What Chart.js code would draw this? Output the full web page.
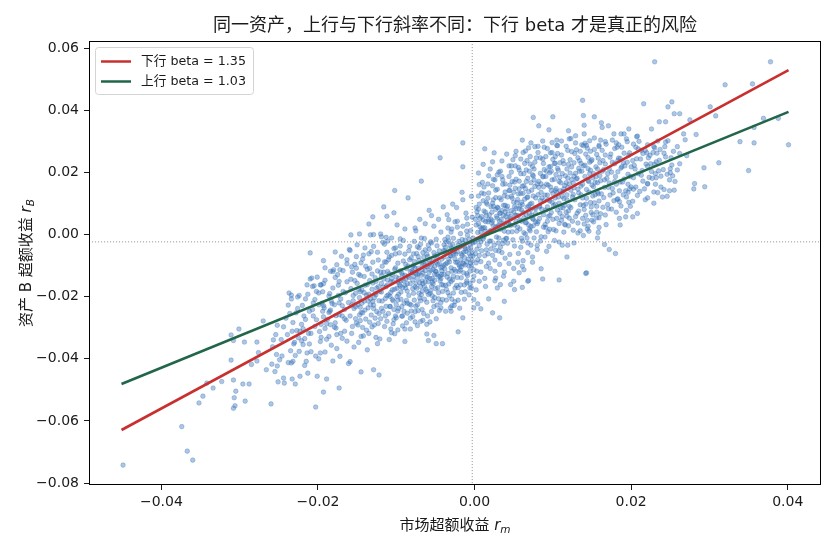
<!DOCTYPE html>
<html><head><meta charset="utf-8">
<script src="https://cdn.jsdelivr.net/npm/chart.js@4.4.1/dist/chart.umd.min.js"></script>
<style>html,body{margin:0;padding:0;background:#fff;overflow:hidden}canvas{display:block}</style>
</head><body>
<canvas id="c" width="836" height="550"></canvas>
<script>
const chartTitle = '同一资产，上行与下行斜率不同：下行 beta 才是真正的风险';
const xLabelText = '市场超额收益 ';
const xLabelSub = 'm';
const yLabelText = '资产 B 超额收益 ';
const yLabelSub = 'B';
const xTicks = [-0.04, -0.02, 0, 0.02, 0.04];
const yTicks = [-0.08, -0.06, -0.04, -0.02, 0, 0.02, 0.04, 0.06];
const xRange = [-0.04925, 0.04425];
const yRange = [-0.0806, 0.0623];
const lineX = [-0.0451, 0.0401];
const downBetaY = [-0.0629, 0.0529];
const upBetaY = [-0.0481, 0.0395];
const seriesLabels = ['下行 beta = 1.35', '上行 beta = 1.03'];
const meanMarket = -0.0003;
const meanAsset = -0.00235;
const scatterPoints = [
[-0.0449,-0.0742],[-0.0374,-0.0618],[-0.0367,-0.0697],[-0.0360,-0.0726],[-0.0352,-0.0542],[-0.0347,-0.0520],[-0.0342,-0.0478],[-0.0334,-0.0494],[-0.0323,-0.0473],[-0.0311,-0.0323],[-0.0311,-0.0404],[-0.0308,-0.0341],[-0.0308,-0.0468],[-0.0307,-0.0525],[-0.0308,-0.0559],[-0.0306,-0.0551],[-0.0305,-0.0504],[-0.0301,-0.0304],[-0.0296,-0.0481],[-0.0294,-0.0346],[-0.0293,-0.0536],[-0.0288,-0.0481],[-0.0285,-0.0418],[-0.0278,-0.0346],[-0.0278,-0.0407],[-0.0276,-0.0380],[-0.0270,-0.0278],[-0.0266,-0.0435],[-0.0260,-0.0545],[-0.0259,-0.0417],[-0.0257,-0.0339],[-0.0254,-0.0322],[-0.0253,-0.0386],[-0.0252,-0.0423],[-0.0251,-0.0474],[-0.0249,-0.0403],[-0.0246,-0.0391],[-0.0244,-0.0297],[-0.0244,-0.0462],[-0.0243,-0.0478],[-0.0237,-0.0188],[-0.0235,-0.0374],[-0.0234,-0.0207],[-0.0233,-0.0465],[-0.0232,-0.0408],[-0.0230,-0.0347],[-0.0229,-0.0481],[-0.0227,-0.0309],[-0.0226,-0.0201],[-0.0225,-0.0332],[-0.0223,-0.0456],[-0.0219,-0.0303],[-0.0217,-0.0335],[-0.0215,-0.0408],[-0.0214,-0.0381],[-0.0213,-0.0446],[-0.0214,-0.0162],[-0.0210,-0.0143],[-0.0209,-0.0377],[-0.0206,-0.0220],[-0.0203,-0.0555],[-0.0202,-0.0274],[-0.0201,-0.0456],[-0.0199,-0.0400],[-0.0197,-0.0344],[-0.0196,-0.0162],[-0.0194,-0.0184],[-0.0193,-0.0507],[-0.0192,-0.0236],[-0.0191,-0.0378],[-0.0189,-0.0465],[-0.0186,-0.0328],[-0.0185,-0.0190],[-0.0184,-0.0290],[-0.0182,-0.0222],[-0.0176,-0.0322],[-0.0174,-0.0163],[-0.0173,-0.0220],[-0.0173,-0.0494],[-0.0172,-0.0392],
[-0.0145,-0.0442],[-0.0129,-0.0435],[-0.0122,-0.0452],[-0.0089,-0.0344],[-0.0161,-0.0415],[-0.0159,-0.0409],
[-0.0049,-0.0351],[-0.0041,-0.0351],[-0.0052,-0.0325],[-0.0059,-0.0341],[-0.0061,-0.0320],[-0.0021,-0.0313],[-0.0015,-0.0268],[-0.0001,-0.0236],[0.0008,-0.0239],[0.0004,-0.0223],[0.0018,-0.0207],[0.0023,-0.0252],[0.0032,-0.0268],[0.0038,-0.0215],[0.0029,-0.0172],[0.0046,-0.0161],[0.0051,-0.0177],[0.0061,-0.0170],[0.0069,-0.0148],[0.0087,-0.0143],[0.0108,-0.0146],[0.0142,-0.0125],[-0.0057,-0.0281],[-0.0069,-0.0280],[-0.0076,-0.0281],[-0.0089,-0.0304],[-0.0082,-0.0304],[-0.0093,-0.0263],[-0.0030,-0.0247],[-0.0029,-0.0229],
[0.0230,0.0556],[0.0378,0.0556],[0.0320,0.0482],[0.0355,0.0485],[0.0138,0.0432],[0.0216,0.0421],[0.0252,0.0427],[0.0247,0.0411],[0.0255,0.0389],[0.0262,0.0389],[0.0275,0.0369],[0.0301,0.0411],[0.0308,0.0382],[0.0369,0.0374],[0.0388,0.0374],[0.0357,0.0345],[0.0339,0.0299],[0.0357,0.0295],[0.0401,0.0289],[0.0283,0.0322],[0.0312,0.0231],[0.0350,0.0206],[0.0293,0.0215],[0.0281,0.0164],[0.0280,0.0147],[0.0294,0.0154],[0.0246,0.0123],[0.0249,0.0141],[0.0234,0.0135],[0.0221,0.0118],[0.0075,0.0377],[0.0100,0.0379],[0.0082,0.0350],[0.0095,0.0337],[0.0120,0.0334],[0.0139,0.0383],[0.0153,0.0379],[0.0140,0.0352],[0.0140,0.0324],[0.0162,0.0360],[0.0163,0.0345],[0.0171,0.0350],[-0.0015,0.0295],[-0.0015,0.0218],[-0.0044,0.0247],[-0.0068,0.0172],[-0.0085,0.0118],
[-0.0102,0.0142],[-0.0147,0.0002],[-0.0210,-0.0059],[-0.0178,-0.0056],[-0.0160,-0.0048],[-0.0163,-0.0081],[-0.0145,-0.0091],[-0.0180,-0.0113],[-0.0176,-0.0097],[-0.0208,-0.0140],[-0.0119,-0.0007],[-0.0112,0.0059],[-0.0103,0.0070],
[0.0236,0.0363],[0.0244,0.0363],[0.0226,0.0340],[0.0267,0.0324],[0.0259,0.0283],[0.0269,0.0305],[0.0262,0.0228],[0.0271,0.0254],[0.0250,0.0212],[0.0250,0.0199],[0.0240,0.0121],[0.0229,0.0137],[0.0244,0.0250],[0.0232,0.0234],[0.0237,0.0274],[0.0230,0.0279],[0.0243,0.0283],[0.0221,0.0220],[0.0223,0.0184],[0.0231,0.0196],[0.0221,0.0164],[0.0215,0.0261],[0.0210,0.0300],[0.0208,0.0317],[0.0203,0.0291],[0.0197,0.0340],[0.0191,0.0324],[0.0187,0.0324],[0.0208,0.0126],[0.0199,0.0091],[0.0202,0.0107],[0.0193,0.0057],[0.0208,0.0068],[0.0202,0.0057],[0.0186,0.0031],[0.0183,0.0115],[0.0196,0.0136],
[0.0013,0.0276],[0.0025,0.0263],[0.0061,0.0304],[0.0072,0.0295],[0.0069,0.0279],[0.0105,0.0304],[0.0121,0.0308],[0.0129,0.0295],[0.0143,0.0287],[0.0159,0.0287],[0.0167,0.0299],[0.0181,0.0295],[0.0194,0.0308],[0.0207,0.0315],[0.0229,0.0283],[0.0220,0.0263],[0.0204,0.0223],[0.0232,0.0183],[0.0180,-0.0061],[0.0166,-0.0032],[0.0172,-0.0048],[0.0157,-0.0011],[0.0143,-0.0123],[0.0127,-0.0027],[0.0118,-0.0072],[0.0085,-0.0110],[0.0074,-0.0089],[0.0068,-0.0150],[0.0145,0.0027],[0.0146,0.0011],[0.0158,0.0007],[0.0156,0.0054],[0.0139,-0.0003],[0.0132,0.0005],[0.0119,-0.0034],[0.0112,-0.0034],[0.0092,-0.0054],[0.0080,-0.0035],[0.0072,-0.0034],[0.0057,-0.0123],[0.0061,-0.0102],[0.0063,-0.0113],[0.0050,-0.0150],[0.0037,-0.0134],[0.0027,-0.0140],[0.0006,-0.0150],[-0.0010,-0.0156],
[-0.0116,0.0089],[-0.0130,0.0057],[-0.0135,0.0034],[-0.0129,0.0000],[-0.0120,0.0002],[-0.0158,-0.0001],[-0.0150,-0.0033],[-0.0193,-0.0084],[-0.0191,-0.0107],[-0.0170,-0.0070],[-0.0172,-0.0113],[-0.0202,-0.0183],[-0.0197,-0.0162],[-0.0178,-0.0138],[-0.0234,-0.0195],
[-0.0198,-0.0312],[-0.0195,-0.0221],[-0.0193,-0.0265],[-0.0191,-0.0147],[-0.0189,-0.0287],[-0.0186,-0.0198],[-0.0184,-0.0243],[-0.0183,-0.0356],[-0.0181,-0.0172],[-0.0179,-0.0226],[-0.0177,-0.0301],[-0.0175,-0.0129],[-0.0173,-0.0258],[-0.0171,-0.0207],[-0.0169,-0.0334],[-0.0168,-0.0183],[-0.0166,-0.0241],[-0.0164,-0.0276],[-0.0163,-0.0152],[-0.0161,-0.0219],
[-0.0159,-0.0262],[-0.0158,-0.0174],[-0.0157,-0.0318],[-0.0156,-0.0121],[-0.0155,-0.0213],[-0.0154,-0.0238],[-0.0153,-0.0096],[-0.0152,-0.0189],[-0.0151,-0.0285],[-0.0150,-0.0157],[-0.0149,-0.0226],[-0.0148,-0.0347],[-0.0147,-0.0203],[-0.0146,-0.0132],[-0.0145,-0.0251],[-0.0144,-0.0178],[-0.0143,-0.0299],[-0.0142,-0.0066],[-0.0141,-0.0214],[-0.0140,-0.0163],[-0.0139,-0.0272],[-0.0138,-0.0195],[-0.0137,-0.0112],[-0.0136,-0.0236],[-0.0135,-0.0318],[-0.0134,-0.0148],[-0.0133,-0.0207],[-0.0132,-0.0259],[-0.0131,-0.0176],[-0.0130,-0.0089],[-0.0129,-0.0227],[-0.0128,-0.0291],[-0.0127,-0.0139],[-0.0126,-0.0194],[-0.0125,-0.0248],[-0.0124,-0.0057],[-0.0123,-0.0168],[-0.0122,-0.0213],[-0.0121,-0.0336],[-0.0120,-0.0121],
[-0.0119,-0.0185],[-0.0118,-0.0102],[-0.0117,-0.0247],[-0.0116,-0.0143],[-0.0115,-0.0031],[-0.0114,-0.0206],[-0.0113,-0.0168],[-0.0112,-0.0279],[-0.0111,-0.0119],[-0.0110,-0.0194],[-0.0109,-0.0072],[-0.0108,-0.0231],[-0.0107,-0.0152],[-0.0106,-0.0316],[-0.0105,-0.0128],[-0.0104,-0.0213],[-0.0103,-0.0045],[-0.0102,-0.0176],[-0.0101,-0.0262],[-0.0100,-0.0137],[-0.0099,-0.0199],[-0.0098,-0.0092],[-0.0097,-0.0238],[-0.0096,-0.0161],[-0.0095,-0.0014],[-0.0094,-0.0185],[-0.0093,-0.0124],[-0.0092,-0.0294],[-0.0091,-0.0148],[-0.0090,-0.0221],[-0.0089,-0.0063],[-0.0088,-0.0172],[-0.0087,-0.0109],[-0.0086,-0.0253],[-0.0085,-0.0134],[-0.0084,-0.0196],[-0.0083,-0.0038],[-0.0082,-0.0158],[-0.0081,-0.0227],[-0.0080,-0.0117],[-0.0119,-0.0133],[-0.0113,-0.0089],[-0.0107,-0.0186],[-0.0101,-0.0107],[-0.0095,-0.0166],[-0.0089,-0.0131],[-0.0083,-0.0081],[-0.0110,-0.0254],[-0.0098,-0.0211],[-0.0086,-0.0158],
[-0.0079,-0.0146],[-0.0078,-0.0062],[-0.0077,-0.0211],[-0.0076,-0.0108],[-0.0075,0.0012],[-0.0074,-0.0173],[-0.0073,-0.0127],[-0.0072,-0.0245],[-0.0071,-0.0083],[-0.0070,-0.0155],[-0.0069,-0.0031],[-0.0068,-0.0194],[-0.0067,-0.0112],[-0.0066,-0.0276],[-0.0065,-0.0094],[-0.0064,-0.0167],[-0.0063,0.0035],[-0.0062,-0.0136],[-0.0061,-0.0218],[-0.0060,-0.0071],[-0.0059,-0.0152],[-0.0058,-0.0047],[-0.0057,-0.0189],[-0.0056,-0.0115],[-0.0055,0.0061],[-0.0054,-0.0141],[-0.0053,-0.0086],[-0.0052,-0.0232],[-0.0051,-0.0102],[-0.0050,-0.0174],[-0.0049,-0.0015],[-0.0048,-0.0128],[-0.0047,-0.0064],[-0.0046,-0.0207],[-0.0045,-0.0093],[-0.0044,-0.0149],[-0.0043,0.0008],[-0.0042,-0.0117],[-0.0041,-0.0183],[-0.0040,-0.0052],[-0.0078,-0.0099],[-0.0073,-0.0039],[-0.0068,-0.0131],[-0.0063,-0.0088],[-0.0058,-0.0122],[-0.0053,-0.0159],[-0.0048,-0.0077],[-0.0043,-0.0106],[-0.0076,-0.0168],[-0.0066,-0.0058],[-0.0056,-0.0023],[-0.0046,-0.0135],[-0.0071,-0.0189],[-0.0061,-0.0103],[-0.0051,-0.0069],
[-0.0039,-0.0098],[-0.0038,-0.0016],[-0.0037,-0.0163],[-0.0036,-0.0059],[-0.0035,0.0064],[-0.0034,-0.0125],[-0.0033,-0.0079],[-0.0032,-0.0197],[-0.0031,-0.0035],[-0.0030,-0.0107],[-0.0029,0.0018],[-0.0028,-0.0146],[-0.0027,-0.0064],[-0.0026,-0.0228],[-0.0025,-0.0046],[-0.0024,-0.0118],[-0.0023,0.0087],[-0.0022,-0.0089],[-0.0021,-0.0171],[-0.0020,-0.0022],[-0.0019,-0.0103],[-0.0018,0.0003],[-0.0017,-0.0139],[-0.0016,-0.0067],[-0.0015,0.0112],[-0.0014,-0.0094],[-0.0013,-0.0038],[-0.0012,-0.0184],[-0.0011,-0.0054],[-0.0010,-0.0126],[-0.0009,0.0033],[-0.0008,-0.0079],[-0.0007,-0.0015],[-0.0006,-0.0158],[-0.0005,-0.0043],[-0.0004,-0.0101],[-0.0003,0.0056],[-0.0002,-0.0069],[-0.0001,-0.0134],[-0.0002,-0.0027],[-0.0037,-0.0041],[-0.0032,-0.0088],[-0.0027,-0.0012],[-0.0022,-0.0055],[-0.0017,-0.0104],[-0.0012,-0.0018],[-0.0007,-0.0061],[-0.0035,-0.0137],[-0.0025,0.0041],[-0.0015,-0.0029],[-0.0005,-0.0092],[-0.0030,-0.0069],[-0.0020,-0.0119],[-0.0010,0.0011],[-0.0033,-0.0021],
[0.0001,-0.0062],[0.0002,0.0031],[0.0003,-0.0118],[0.0004,0.0007],[0.0005,0.0124],[0.0006,-0.0035],[0.0007,0.0052],[0.0008,-0.0087],[0.0009,0.0019],[0.0010,0.0168],[0.0011,-0.0014],[0.0012,0.0076],[0.0013,-0.0141],[0.0014,0.0042],[0.0015,-0.0049],[0.0016,0.0098],[0.0017,0.0005],[0.0018,-0.0092],[0.0019,0.0063],[0.0020,0.0211],[0.0021,-0.0021],[0.0022,0.0037],[0.0023,-0.0067],[0.0024,0.0112],[0.0025,0.0013],[0.0026,-0.0118],[0.0027,0.0081],[0.0028,-0.0008],[0.0029,0.0146],[0.0030,0.0027],[0.0031,-0.0053],[0.0032,0.0069],[0.0033,-0.0161],[0.0034,0.0048],[0.0035,0.0187],[0.0036,-0.0029],[0.0037,0.0094],[0.0038,0.0011],[0.0039,-0.0076],[0.0040,0.0058],[0.0003,0.0073],[0.0008,-0.0023],[0.0013,0.0022],[0.0018,0.0134],[0.0023,0.0044],[0.0028,0.0059],[0.0033,0.0017],[0.0038,0.0125],[0.0006,0.0098],[0.0016,-0.0031],[0.0026,0.0176],[0.0036,0.0031],[0.0011,0.0047],[0.0021,0.0089],[0.0031,-0.0011],
[0.0041,-0.0012],[0.0042,0.0091],[0.0043,0.0036],[0.0044,0.0187],[0.0045,-0.0064],[0.0046,0.0058],[0.0047,0.0123],[0.0048,0.0009],[0.0049,0.0241],[0.0050,0.0072],[0.0051,-0.0037],[0.0052,0.0149],[0.0053,0.0043],[0.0054,0.0103],[0.0055,-0.0089],[0.0056,0.0061],[0.0057,0.0208],[0.0058,0.0018],[0.0059,0.0132],[0.0060,0.0079],[0.0061,-0.0021],[0.0062,0.0264],[0.0063,0.0054],[0.0064,0.0114],[0.0065,0.0002],[0.0066,0.0171],[0.0067,0.0088],[0.0068,-0.0058],[0.0069,0.0138],[0.0070,0.0067],[0.0071,0.0227],[0.0072,0.0026],[0.0073,0.0101],[0.0074,0.0192],[0.0075,0.0049],[0.0076,-0.0011],[0.0077,0.0155],[0.0078,0.0083],[0.0079,0.0247],[0.0080,0.0035],[0.0043,0.0066],[0.0048,0.0117],[0.0053,0.0084],[0.0058,0.0046],[0.0063,0.0157],[0.0068,0.0121],[0.0073,0.0063],[0.0078,0.0118],[0.0046,0.0029],[0.0056,0.0216],[0.0066,0.0039],[0.0076,0.0176],[0.0051,0.0169],[0.0061,0.0097],[0.0071,0.0012],
[0.0081,0.0041],[0.0082,0.0152],[0.0083,0.0093],[0.0084,0.0247],[0.0085,-0.0007],[0.0086,0.0118],[0.0087,0.0186],[0.0088,0.0064],[0.0089,0.0281],[0.0090,0.0127],[0.0091,0.0023],[0.0092,0.0204],[0.0093,0.0089],[0.0094,0.0159],[0.0095,-0.0038],[0.0096,0.0108],[0.0097,0.0263],[0.0098,0.0071],[0.0099,0.0176],[0.0100,0.0132],[0.0101,0.0016],[0.0102,0.0229],[0.0103,0.0097],[0.0104,0.0148],[0.0105,0.0052],[0.0106,0.0213],[0.0107,0.0121],[0.0108,-0.0024],[0.0109,0.0184],[0.0110,0.0086],[0.0111,0.0256],[0.0112,0.0058],[0.0113,0.0139],[0.0114,0.0228],[0.0115,0.0094],[0.0116,0.0031],[0.0117,0.0167],[0.0118,0.0112],[0.0119,0.0271],[0.0120,0.0076],[0.0084,0.0109],[0.0094,0.0058],[0.0104,0.0193],[0.0114,0.0147],[0.0089,0.0209],[0.0099,0.0104],[0.0109,0.0069],[0.0119,0.0182],
[0.0121,0.0091],[0.0122,0.0198],[0.0123,0.0143],[0.0124,0.0267],[0.0125,0.0043],[0.0126,0.0166],[0.0127,0.0231],[0.0128,0.0112],[0.0129,0.0318],[0.0130,0.0179],[0.0131,0.0069],[0.0132,0.0247],[0.0133,0.0134],[0.0134,0.0204],[0.0135,0.0012],[0.0136,0.0156],[0.0137,0.0289],[0.0138,0.0118],[0.0139,0.0221],[0.0140,0.0081],[0.0141,0.0187],[0.0142,0.0259],[0.0143,0.0145],[0.0144,0.0046],[0.0145,0.0212],[0.0146,0.0171],[0.0147,0.0302],[0.0148,0.0103],[0.0149,0.0237],[0.0150,0.0159],[0.0151,0.0064],[0.0152,0.0196],[0.0153,0.0274],[0.0154,0.0128],[0.0155,0.0218],[0.0156,0.0072],[0.0157,0.0167],[0.0158,0.0246],[0.0159,0.0108],[0.0160,0.0189],
[0.0162,0.0131],[0.0164,0.0238],[0.0166,0.0176],[0.0168,0.0291],[0.0170,0.0097],[0.0172,0.0212],[0.0174,0.0259],[0.0176,0.0148],[0.0178,0.0324],[0.0180,0.0187],[0.0182,0.0113],[0.0184,0.0246],[0.0186,0.0169],[0.0188,0.0281],[0.0190,0.0128],[0.0192,0.0221],[0.0194,0.0078],[0.0196,0.0194],[0.0198,0.0263],[0.0200,0.0153],[0.0163,0.0204],[0.0171,0.0152],[0.0179,0.0228],[0.0187,0.0092],[0.0195,0.0299],[0.0167,0.0063],[0.0183,0.0202],
[0.0203,0.0183],[0.0207,0.0244],[0.0211,0.0139],[0.0214,0.0206],[0.0218,0.0271],[0.0221,0.0163],[0.0225,0.0228],[0.0229,0.0101],[0.0233,0.0262],[0.0238,0.0188],[0.0242,0.0145],[0.0247,0.0302],[0.0252,0.0224],[0.0256,0.0171],
[0.0152,0.0041],[0.0161,0.0067],[0.0168,0.0032],[0.0175,0.0082],[0.0149,0.0089],[0.0185,0.0052],[0.0159,0.0023],
[0.0044,0.0221],[0.0052,0.0254],[0.0059,0.0196],[0.0067,0.0238],[0.0074,0.0219],[0.0081,0.0264],[0.0088,0.0229],[0.0096,0.0199],[0.0103,0.0251],[0.0039,0.0163],[0.0031,0.0201],[0.0024,0.0178],
[-0.0104,-0.0152],[-0.0092,-0.0171],[-0.0079,-0.0122],[-0.0067,-0.0149],[-0.0055,-0.0098],[-0.0042,-0.0161],[-0.0098,-0.0246],[-0.0073,-0.0226],[-0.0061,-0.0183],[-0.0049,-0.0119],
[-0.0218,-0.0262],[-0.0212,-0.0318],[-0.0207,-0.0241],[-0.0216,-0.0207],[-0.0204,-0.0296],[-0.0199,-0.0188],[-0.0211,-0.0352],[-0.0193,-0.0229],[-0.0188,-0.0273],[-0.0205,-0.0165],[-0.0196,-0.0331],[-0.0185,-0.0247],[-0.0181,-0.0119],[-0.0178,-0.0284],[-0.0174,-0.0196],[-0.0169,-0.0262],[-0.0166,-0.0311],[-0.0163,-0.0094],[-0.0220,-0.0228],[-0.0201,-0.0137],
[-0.0157,-0.0227],[-0.0153,-0.0148],[-0.0149,-0.0291],[-0.0146,-0.0184],[-0.0143,-0.0079],[-0.0140,-0.0243],[-0.0137,-0.0161],[-0.0134,-0.0282],[-0.0131,-0.0127],[-0.0128,-0.0203],[-0.0125,-0.0172],[-0.0122,-0.0254],[-0.0155,-0.0196],[-0.0151,-0.0108],[-0.0147,-0.0259],[-0.0144,-0.0221],[-0.0141,-0.0135],[-0.0138,-0.0308],[-0.0135,-0.0192],[-0.0132,-0.0055],[-0.0129,-0.0238],[-0.0126,-0.0151],[-0.0123,-0.0286],[-0.0121,-0.0183],[-0.0158,-0.0144],[-0.0152,-0.0271],[-0.0146,-0.0234],[-0.0139,-0.0102],[-0.0133,-0.0226],[-0.0127,-0.0269],[-0.0124,-0.0117],[-0.0148,-0.0176],[-0.0136,-0.0214],[-0.0130,-0.0156],[-0.0142,-0.0326],
[-0.0118,-0.0214],[-0.0116,-0.0121],[-0.0114,-0.0262],[-0.0112,-0.0163],[-0.0110,-0.0081],[-0.0108,-0.0199],[-0.0106,-0.0141],[-0.0104,-0.0287],[-0.0102,-0.0112],[-0.0100,-0.0226],[-0.0098,-0.0153],[-0.0096,-0.0059],[-0.0094,-0.0208],[-0.0092,-0.0131],[-0.0090,-0.0247],[-0.0088,-0.0096],[-0.0086,-0.0182],[-0.0084,-0.0138],[-0.0082,-0.0269],[-0.0081,-0.0075],[-0.0117,-0.0169],[-0.0113,-0.0231],[-0.0109,-0.0126],[-0.0105,-0.0178],[-0.0101,-0.0043],[-0.0097,-0.0192],[-0.0093,-0.0232],[-0.0089,-0.0163],[-0.0085,-0.0101],[-0.0111,-0.0146],[-0.0103,-0.0241],[-0.0095,-0.0117],[-0.0087,-0.0212],[-0.0115,-0.0088],[-0.0107,-0.0304],[-0.0099,-0.0173],[-0.0091,-0.0085],[-0.0083,-0.0224],[-0.0119,-0.0238],[-0.0106,-0.0067],[-0.0094,-0.0149],[-0.0082,-0.0119],[-0.0112,-0.0197],[-0.0100,-0.0268],[-0.0088,-0.0143],
[-0.0079,-0.0174],[-0.0077,-0.0087],[-0.0075,-0.0231],[-0.0073,-0.0141],[-0.0071,-0.0043],[-0.0069,-0.0167],[-0.0067,-0.0098],[-0.0065,-0.0254],[-0.0063,-0.0116],[-0.0061,-0.0063],[-0.0059,-0.0193],[-0.0057,-0.0141],[-0.0055,-0.0027],[-0.0053,-0.0213],[-0.0051,-0.0128],[-0.0049,-0.0088],[-0.0047,-0.0171],[-0.0045,-0.0052],[-0.0043,-0.0236],[-0.0041,-0.0104],[-0.0078,-0.0134],[-0.0074,-0.0061],[-0.0070,-0.0204],[-0.0066,-0.0124],[-0.0062,-0.0176],[-0.0058,-0.0081],[-0.0054,-0.0153],[-0.0050,-0.0118],[-0.0046,-0.0187],[-0.0042,-0.0079],[-0.0076,-0.0248],[-0.0072,-0.0109],[-0.0068,-0.0011],[-0.0064,-0.0208],[-0.0060,-0.0137],[-0.0056,-0.0181],[-0.0052,-0.0058],[-0.0048,-0.0227],[-0.0044,-0.0134],[-0.0040,-0.0163],[-0.0079,-0.0103],[-0.0071,-0.0125],[-0.0063,-0.0152],[-0.0055,-0.0167],[-0.0047,-0.0096],[-0.0075,-0.0157],[-0.0067,-0.0182],[-0.0059,-0.0034],[-0.0051,-0.0203],[-0.0043,-0.0141],[-0.0077,-0.0022],[-0.0065,-0.0073],[-0.0053,-0.0112],[-0.0041,-0.0209],[-0.0060,-0.0262],
[-0.0039,-0.0128],[-0.0038,-0.0052],[-0.0036,-0.0176],[-0.0035,-0.0091],[-0.0034,0.0021],[-0.0032,-0.0143],[-0.0031,-0.0068],[-0.0029,-0.0208],[-0.0028,-0.0031],[-0.0026,-0.0112],[-0.0025,-0.0079],[-0.0023,-0.0164],[-0.0022,0.0043],[-0.0020,-0.0097],[-0.0019,-0.0041],[-0.0017,-0.0186],[-0.0016,-0.0016],[-0.0014,-0.0123],[-0.0013,-0.0074],[-0.0011,0.0069],[-0.0010,-0.0149],[-0.0008,-0.0046],[-0.0007,-0.0102],[-0.0005,0.0013],[-0.0004,-0.0171],[-0.0003,-0.0084],[-0.0002,-0.0011],[-0.0001,-0.0113],[-0.0039,-0.0072],[-0.0036,-0.0024],[-0.0033,-0.0159],[-0.0030,-0.0044],[-0.0027,-0.0134],[-0.0024,-0.0063],[-0.0021,-0.0211],[-0.0018,-0.0081],[-0.0015,0.0027],[-0.0012,-0.0098],[-0.0009,-0.0132],[-0.0006,-0.0031],[-0.0003,-0.0056],[-0.0038,-0.0111],[-0.0034,-0.0187],[-0.0030,0.0008],[-0.0026,-0.0055],[-0.0022,-0.0138],[-0.0018,-0.0114],[-0.0014,-0.0057],[-0.0010,-0.0088],[-0.0006,-0.0118],[-0.0002,-0.0148],[-0.0037,-0.0095],[-0.0029,-0.0118],[-0.0021,-0.0034],[-0.0013,-0.0162],[-0.0005,-0.0069],[-0.0033,0.0048],[-0.0025,-0.0172],[-0.0017,-0.0062],[-0.0009,-0.0002],
[0.0001,-0.0024],[0.0002,0.0087],[0.0004,-0.0081],[0.0005,0.0036],[0.0006,0.0161],[0.0008,0.0008],[0.0009,-0.0052],[0.0011,0.0109],[0.0012,-0.0007],[0.0014,0.0072],[0.0015,-0.0103],[0.0017,0.0041],[0.0018,0.0189],[0.0020,0.0012],[0.0021,-0.0046],[0.0023,0.0101],[0.0024,0.0028],[0.0026,-0.0082],[0.0027,0.0143],[0.0029,0.0053],[0.0030,-0.0027],[0.0032,0.0118],[0.0033,0.0069],[0.0035,-0.0058],[0.0036,0.0162],[0.0038,0.0036],[0.0039,0.0094],[0.0040,-0.0013],[0.0001,0.0049],[0.0003,-0.0047],[0.0005,0.0082],[0.0007,-0.0013],[0.0009,0.0134],[0.0011,0.0022],[0.0013,-0.0068],[0.0015,0.0061],[0.0017,0.0117],[0.0019,-0.0021],[0.0021,0.0049],[0.0023,0.0157],[0.0025,-0.0034],[0.0027,0.0024],[0.0029,0.0088],[0.0031,0.0031],[0.0033,0.0204],[0.0035,0.0077],[0.0037,-0.0018],[0.0039,0.0137],[0.0002,-0.0091],[0.0007,0.0024],[0.0012,0.0153],[0.0017,-0.0062],[0.0022,0.0072],[0.0027,-0.0051],[0.0032,0.0043],[0.0037,0.0061],[0.0004,0.0061],[0.0014,0.0011],[0.0024,0.0091],[0.0034,0.0112],
[0.0041,0.0083],[0.0043,0.0008],[0.0044,0.0142],[0.0046,0.0051],[0.0047,0.0201],[0.0049,-0.0017],[0.0050,0.0104],[0.0052,0.0062],[0.0053,0.0178],[0.0055,0.0024],[0.0056,0.0131],[0.0058,0.0092],[0.0059,-0.0041],[0.0061,0.0156],[0.0062,0.0071],[0.0064,0.0229],[0.0065,0.0038],[0.0067,0.0119],[0.0068,0.0181],[0.0070,0.0017],[0.0071,0.0098],[0.0073,0.0143],[0.0074,0.0052],[0.0076,0.0211],[0.0077,0.0087],[0.0079,0.0009],[0.0080,0.0163],[0.0042,0.0121],[0.0045,0.0032],[0.0048,0.0171],[0.0051,0.0089],[0.0054,0.0011],[0.0057,0.0147],[0.0060,0.0104],[0.0063,0.0196],[0.0066,0.0064],[0.0069,0.0031],[0.0072,0.0167],[0.0075,0.0124],[0.0078,0.0068],[0.0042,0.0047],[0.0047,0.0077],[0.0052,0.0221],[0.0057,0.0083],[0.0062,0.0133],[0.0067,-0.0011],[0.0072,0.0081],[0.0077,0.0233],[0.0045,0.0159],[0.0055,0.0113],[0.0065,0.0148],[0.0075,0.0028],[0.0050,0.0136],[0.0060,0.0043],[0.0070,0.0204],
[0.0081,0.0128],[0.0083,0.0052],[0.0084,0.0197],[0.0086,0.0081],[0.0087,0.0243],[0.0089,0.0109],[0.0090,0.0032],[0.0092,0.0162],[0.0093,0.0127],[0.0095,0.0218],[0.0096,0.0061],[0.0098,0.0142],[0.0099,0.0264],[0.0101,0.0093],[0.0102,0.0178],[0.0104,0.0012],[0.0105,0.0136],[0.0107,0.0207],[0.0108,0.0101],[0.0110,0.0167],[0.0111,0.0046],[0.0113,0.0238],[0.0114,0.0116],[0.0116,0.0189],[0.0117,0.0072],[0.0119,0.0151],[0.0120,0.0226],[0.0082,0.0171],[0.0085,0.0136],[0.0088,0.0024],[0.0091,0.0187],[0.0094,0.0112],[0.0097,0.0153],[0.0100,0.0049],[0.0103,0.0229],[0.0106,0.0079],[0.0109,0.0141],[0.0112,0.0196],[0.0115,0.0033],[0.0118,0.0128],[0.0083,0.0089],[0.0088,0.0154],[0.0093,0.0043],[0.0098,0.0204],[0.0103,0.0118],[0.0108,0.0171],[0.0113,0.0086],[0.0118,0.0211],[0.0091,0.0251],[0.0106,0.0261],
[0.0121,0.0163],[0.0123,0.0087],[0.0124,0.0218],[0.0126,0.0129],[0.0128,0.0261],[0.0129,0.0058],[0.0131,0.0181],[0.0132,0.0146],[0.0134,0.0238],[0.0135,0.0096],[0.0137,0.0204],[0.0138,0.0162],[0.0140,0.0034],[0.0141,0.0223],[0.0143,0.0117],[0.0144,0.0278],[0.0146,0.0137],[0.0147,0.0196],[0.0149,0.0071],[0.0150,0.0241],[0.0152,0.0154],[0.0153,0.0102],[0.0155,0.0186],[0.0156,0.0258],[0.0158,0.0131],[0.0159,0.0054],[0.0122,0.0241],[0.0127,0.0188],[0.0133,0.0076],[0.0139,0.0286],[0.0145,0.0173],[0.0151,0.0124],[0.0157,0.0211],[0.0125,0.0121],[0.0136,0.0229],[0.0142,0.0098],[0.0148,0.0268],[0.0154,0.0168],[0.0130,0.0273],[0.0160,0.0231],
[0.0161,0.0173],[0.0163,0.0271],[0.0165,0.0119],[0.0167,0.0227],[0.0169,0.0181],[0.0171,0.0083],[0.0173,0.0249],[0.0175,0.0201],[0.0177,0.0134],[0.0179,0.0277],[0.0181,0.0162],[0.0183,0.0238],[0.0185,0.0106],[0.0187,0.0214],[0.0189,0.0169],[0.0191,0.0262],[0.0193,0.0141],[0.0195,0.0233],[0.0197,0.0104],[0.0199,0.0187],[0.0166,0.0152],[0.0176,0.0304],[0.0186,0.0245],[0.0196,0.0162],[0.0181,0.0072],
[0.0202,0.0238],[0.0206,0.0153],[0.0209,0.0276],[0.0213,0.0191],[0.0217,0.0147],[0.0222,0.0247],[0.0226,0.0203],[0.0231,0.0162],[0.0236,0.0239],[0.0241,0.0209],[0.0249,0.0176],[0.0254,0.0268],
[-0.0258,-0.0361],[-0.0252,-0.0292],[-0.0247,-0.0338],[-0.0241,-0.0269],[-0.0238,-0.0412],[-0.0233,-0.0311],[-0.0228,-0.0252],[-0.0224,-0.0376],[-0.0221,-0.0289],[-0.0255,-0.0441],
[-0.0239,-0.0322],[-0.0236,-0.0254],[-0.0232,-0.0283],[-0.0229,-0.0389],[-0.0226,-0.0238],[-0.0223,-0.0311],[-0.0219,-0.0354],[-0.0216,-0.0273],[-0.0213,-0.0192],[-0.0209,-0.0318],[-0.0206,-0.0262],[-0.0203,-0.0391],[-0.0199,-0.0226],[-0.0196,-0.0289],[-0.0193,-0.0158],[-0.0189,-0.0337],[-0.0186,-0.0251],[-0.0183,-0.0214],[-0.0179,-0.0298],[-0.0176,-0.0367],[-0.0173,-0.0151],[-0.0169,-0.0229],[-0.0166,-0.0271],[-0.0163,-0.0343],[-0.0238,-0.0227],[-0.0231,-0.0352],[-0.0224,-0.0196],[-0.0217,-0.0421],[-0.0211,-0.0247],[-0.0204,-0.0209],[-0.0197,-0.0381],[-0.0191,-0.0302],[-0.0184,-0.0118],[-0.0177,-0.0261],[-0.0171,-0.0318],[-0.0165,-0.0187],[-0.0234,-0.0413],[-0.0221,-0.0342],[-0.0207,-0.0167],[-0.0194,-0.0247],[-0.0181,-0.0407],[-0.0168,-0.0116],
[-0.0159,-0.0051],[-0.0156,-0.0296],[-0.0154,-0.0362],[-0.0151,-0.0071],[-0.0148,-0.0128],[-0.0145,-0.0328],[-0.0143,-0.0252],[-0.0140,-0.0043],[-0.0137,-0.0371],[-0.0134,-0.0109],[-0.0131,-0.0297],[-0.0129,-0.0038],[-0.0126,-0.0331],[-0.0123,-0.0082],[-0.0120,-0.0271],[-0.0117,-0.0025],[-0.0115,-0.0296],[-0.0112,-0.0057],[-0.0109,-0.0338],[-0.0106,-0.0011],[-0.0103,-0.0274],[-0.0101,-0.0062],[-0.0098,-0.0307],[-0.0095,-0.0037],[-0.0092,-0.0262],[-0.0089,0.0018],[-0.0087,-0.0284],[-0.0084,-0.0052],[-0.0081,-0.0246],[-0.0157,-0.0104],[-0.0146,-0.0277],[-0.0135,-0.0062],[-0.0124,-0.0351],[-0.0113,-0.0009],[-0.0102,-0.0319],[-0.0091,-0.0019],[-0.0152,-0.0232],[-0.0141,-0.0187],[-0.0130,-0.0215],[-0.0119,-0.0157],[-0.0108,-0.0232],[-0.0097,-0.0141],[-0.0086,-0.0221],[-0.0133,-0.0001],[-0.0111,-0.0021],[-0.0099,0.0031],[-0.0127,-0.0189],[-0.0105,-0.0209],
[-0.0079,-0.0264],[-0.0076,0.0021],[-0.0073,-0.0293],[-0.0070,0.0049],[-0.0067,-0.0241],[-0.0064,-0.0013],[-0.0061,-0.0289],[-0.0058,0.0078],[-0.0055,-0.0248],[-0.0052,0.0027],[-0.0049,-0.0271],[-0.0046,0.0049],[-0.0043,-0.0219],[-0.0040,0.0089],[-0.0037,-0.0247],[-0.0034,-0.0008],[-0.0031,-0.0236],[-0.0028,0.0098],[-0.0025,-0.0216],[-0.0022,0.0024],[-0.0019,-0.0237],[-0.0016,0.0136],[-0.0013,-0.0208],[-0.0010,0.0053],[-0.0007,-0.0194],[-0.0004,0.0123],[-0.0001,-0.0209],[-0.0078,-0.0189],[-0.0072,-0.0071],[-0.0066,-0.0158],[-0.0060,-0.0104],[-0.0054,-0.0197],[-0.0048,-0.0036],[-0.0042,-0.0128],[-0.0036,-0.0211],[-0.0030,-0.0151],[-0.0024,-0.0089],[-0.0018,-0.0162],[-0.0012,-0.0046],[-0.0006,-0.0172],[-0.0075,-0.0126],[-0.0063,-0.0049],[-0.0051,-0.0147],[-0.0039,-0.0033],[-0.0027,-0.0188],[-0.0015,-0.0091],[-0.0003,-0.0024],[-0.0069,-0.0213],[-0.0057,-0.0093],[-0.0045,-0.0244],
[0.0002,-0.0178],[0.0005,0.0198],[0.0008,-0.0121],[0.0011,0.0226],[0.0014,-0.0167],[0.0017,0.0163],[0.0020,-0.0109],[0.0023,0.0234],[0.0026,-0.0149],[0.0029,0.0192],[0.0032,-0.0096],[0.0035,0.0237],[0.0038,-0.0121],[0.0041,0.0259],[0.0044,-0.0093],[0.0047,0.0221],[0.0050,-0.0109],[0.0053,0.0268],[0.0056,-0.0061],[0.0059,0.0243],[0.0062,-0.0084],[0.0065,0.0269],[0.0068,-0.0027],[0.0071,0.0251],[0.0074,-0.0072],[0.0077,0.0283],[0.0080,-0.0048],[0.0003,-0.0016],[0.0009,0.0058],[0.0015,0.0103],[0.0021,0.0012],[0.0027,0.0119],[0.0033,-0.0041],[0.0039,0.0073],[0.0045,0.0142],[0.0051,0.0031],[0.0057,0.0172],[0.0063,0.0006],[0.0069,0.0092],[0.0075,0.0189],[0.0006,-0.0067],[0.0018,0.0048],[0.0030,0.0086],[0.0042,-0.0028],[0.0054,0.0061],[0.0066,0.0208],[0.0078,0.0041],[0.0012,0.0131],[0.0036,0.0176],[0.0060,-0.0012],
[0.0081,0.0284],[0.0084,-0.0021],[0.0087,0.0301],[0.0090,-0.0008],[0.0093,0.0277],[0.0096,0.0017],[0.0099,0.0296],[0.0102,-0.0019],[0.0105,0.0287],[0.0108,0.0036],[0.0111,0.0301],[0.0114,0.0008],[0.0117,0.0284],[0.0120,0.0028],[0.0123,0.0309],[0.0126,0.0014],[0.0129,0.0197],[0.0132,0.0037],[0.0135,0.0268],[0.0138,0.0052],[0.0141,0.0294],[0.0144,0.0018],[0.0147,0.0233],[0.0150,0.0046],[0.0153,0.0311],[0.0156,0.0091],[0.0159,0.0283],[0.0085,0.0163],[0.0091,0.0079],[0.0097,0.0219],[0.0103,0.0142],[0.0109,0.0231],[0.0115,0.0158],[0.0121,0.0053],[0.0127,0.0151],[0.0133,0.0213],[0.0139,0.0094],[0.0145,0.0248],[0.0151,0.0183],[0.0157,0.0136],[0.0088,0.0187],[0.0100,0.0242],[0.0112,0.0123],[0.0124,0.0177],[0.0136,0.0128],[0.0148,0.0207],[0.0094,0.0009],[0.0118,0.0059],[0.0142,0.0062],[0.0106,0.0286],
[0.0161,0.0304],[0.0164,0.0088],[0.0167,0.0256],[0.0170,0.0196],[0.0173,0.0127],[0.0176,0.0233],[0.0179,0.0171],[0.0182,0.0281],[0.0185,0.0141],[0.0188,0.0218],[0.0191,0.0179],[0.0194,0.0121],[0.0197,0.0255],[0.0200,0.0218],[0.0203,0.0146],[0.0206,0.0281],[0.0209,0.0196],[0.0212,0.0243],[0.0215,0.0172],[0.0218,0.0112],[0.0221,0.0289],[0.0224,0.0255],[0.0227,0.0181],[0.0230,0.0226],[0.0234,0.0301],[0.0238,0.0153],[0.0242,0.0262],[0.0246,0.0194],[0.0251,0.0247],[0.0255,0.0143],[0.0259,0.0208],[0.0165,0.0209],[0.0172,0.0166],[0.0178,0.0109],[0.0184,0.0289],[0.0190,0.0231],[0.0198,0.0147],[0.0205,0.0211],[0.0213,0.0271],[0.0219,0.0227],[0.0228,0.0264],[0.0235,0.0205],[0.0244,0.0298],[0.0253,0.0189],[0.0262,0.0261]
];

const FONT = '"DejaVu Sans", "Noto Sans CJK SC", sans-serif';
const RED = '#c8302f';
const GREEN = '#22664a';
const PT = 'rgba(52,112,184,0.40)';

function fmtTick(v) {
  const s = Math.abs(v).toFixed(2);
  return (v < -1e-12 ? '\u2212' : '') + s;
}

function drawMathLabel(ctx, main, sub, size) {
  const f1 = size + 'px ' + FONT;
  const f2 = 'italic ' + size + 'px "DejaVu Sans"';
  const f3 = 'italic ' + (size * 0.7) + 'px "DejaVu Sans"';
  ctx.font = f1; const w1 = ctx.measureText(main).width;
  ctx.font = f2; const w2 = ctx.measureText('r').width;
  ctx.font = f3; const w3 = ctx.measureText(sub).width;
  let x0 = -(w1 + w2 + w3) / 2;
  const base = size * 0.38;
  ctx.textAlign = 'left'; ctx.textBaseline = 'alphabetic';
  ctx.font = f1; ctx.fillText(main, x0, base); x0 += w1;
  ctx.font = f2; ctx.fillText('r', x0, base); x0 += w2;
  ctx.font = f3; ctx.fillText(sub, x0, base + size * 0.2);
}

const refLines = {
  id: 'refLines',
  beforeDatasetsDraw(chart) {
    const {ctx, chartArea: a, scales: {x, y}} = chart;
    const px = x.getPixelForValue(meanMarket), py = y.getPixelForValue(meanAsset);
    ctx.save();
    ctx.strokeStyle = '#808080'; ctx.lineWidth = 0.8; ctx.setLineDash([1.1, 1.9]);
    ctx.beginPath();
    ctx.moveTo(px, a.top); ctx.lineTo(px, a.bottom);
    ctx.moveTo(a.left, py); ctx.lineTo(a.right, py);
    ctx.stroke();
    ctx.restore();
  }
};

const decorations = {
  id: 'decorations',
  afterDraw(chart) {
    const {ctx, chartArea: a} = chart;
    ctx.save();
    ctx.strokeStyle = '#000'; ctx.lineWidth = 1;
    ctx.strokeRect(a.left + 0.5, a.top + 0.5, a.right - a.left - 1, a.bottom - a.top - 1);
    ctx.fillStyle = '#1a1a1a';
    ctx.font = '18px ' + FONT; ctx.textAlign = 'center'; ctx.textBaseline = 'middle';
    ctx.fillText(chartTitle, (a.left + a.right) / 2, 26);
    ctx.save(); ctx.translate((a.left + a.right) / 2, 524);
    drawMathLabel(ctx, xLabelText, xLabelSub, 15); ctx.restore();
    ctx.save(); ctx.translate(25, (a.top + a.bottom) / 2); ctx.rotate(-Math.PI / 2);
    drawMathLabel(ctx, yLabelText, yLabelSub, 15); ctx.restore();
    const lx = a.left + 6, ly = a.top + 6, lw = 158, lh = 47;
    ctx.beginPath();
    if (ctx.roundRect) ctx.roundRect(lx + 0.5, ly + 0.5, lw, lh, 3); else ctx.rect(lx + 0.5, ly + 0.5, lw, lh);
    ctx.fillStyle = 'rgba(255,255,255,0.8)'; ctx.fill();
    ctx.strokeStyle = '#d4d4d4'; ctx.lineWidth = 1; ctx.stroke();
    const cols = [RED, GREEN];
    seriesLabels.forEach((lab, i) => {
      const yy = ly + 14.5 + i * 20;
      ctx.strokeStyle = cols[i]; ctx.lineWidth = 2.5;
      ctx.beginPath(); ctx.moveTo(lx + 6, yy); ctx.lineTo(lx + 36, yy); ctx.stroke();
      ctx.fillStyle = '#1a1a1a'; ctx.font = '12.7px ' + FONT;
      ctx.textAlign = 'left'; ctx.textBaseline = 'middle';
      ctx.fillText(lab, lx + 46, yy + 0.5);
    });
    ctx.restore();
  }
};

new Chart(document.getElementById('c'), {
  type: 'scatter',
  data: {
    datasets: [
      {
        label: seriesLabels[1],
        data: lineX.map((x, i) => ({x, y: upBetaY[i]})),
        showLine: true, borderColor: GREEN, borderWidth: 2.6, pointRadius: 0, fill: false, order: 1
      },
      {
        label: seriesLabels[0],
        data: lineX.map((x, i) => ({x, y: downBetaY[i]})),
        showLine: true, borderColor: RED, borderWidth: 2.6, pointRadius: 0, fill: false, order: 2
      },
      {
        label: 'points',
        data: scatterPoints.map(([x, y]) => ({x, y})),
        pointRadius: 2.3, borderWidth: 0.8, backgroundColor: PT, borderColor: PT, showLine: false, order: 3
      }
    ]
  },
  options: {
    responsive: false, animation: false, devicePixelRatio: 1, events: [],
    layout: {padding: {top: 41, right: 15, left: 0, bottom: 0}},
    plugins: {legend: {display: false}, tooltip: {enabled: false}, title: {display: false}},
    scales: {
      x: {
        type: 'linear', min: xRange[0], max: xRange[1],
        afterBuildTicks: s => { s.ticks = xTicks.map(v => ({value: v})); },
        afterFit: s => { s.height = 65; },
        ticks: {callback: v => fmtTick(v), font: {family: FONT, size: 14}, color: '#1a1a1a', padding: 4, maxRotation: 0, autoSkip: false},
        grid: {drawOnChartArea: false, drawTicks: true, tickLength: 5, color: '#000', lineWidth: 0.9},
        border: {display: false}
      },
      y: {
        type: 'linear', min: yRange[0], max: yRange[1],
        afterBuildTicks: s => { s.ticks = yTicks.map(v => ({value: v})); },
        afterFit: s => { s.width = 89; },
        ticks: {callback: v => fmtTick(v), font: {family: FONT, size: 14}, color: '#1a1a1a', padding: 5, autoSkip: false},
        grid: {drawOnChartArea: false, drawTicks: true, tickLength: 5, color: '#000', lineWidth: 0.9},
        border: {display: false}
      }
    }
  },
  plugins: [refLines, decorations]
});
</script>
</body></html>
